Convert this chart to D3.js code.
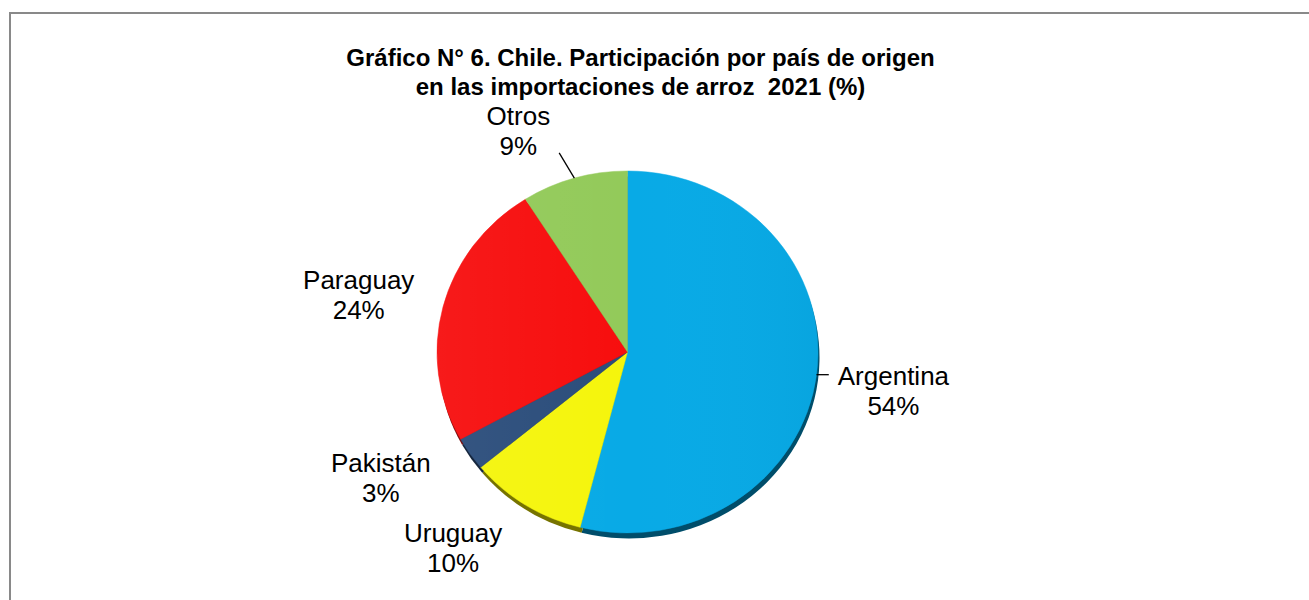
<!DOCTYPE html>
<html>
<head>
<meta charset="utf-8">
<script src="https://cdn.jsdelivr.net/npm/d3@7"></script>
<style>
  body { margin: 0; background: #fff; }
  svg { display: block; font-family: "Liberation Sans", Arial, sans-serif; }
</style>
</head>
<body>
<div id="chart"></div>
<script>
// data (clockwise from 12 o'clock)
var countries = ["Argentina", "Uruguay", "Pakistán", "Paraguay", "Otros"];
var shares = [54, 10, 3, 24, 9];
var percentLabels = ["54%", "10%", "3%", "24%", "9%"];
var titleLines = ["Gráfico N° 6. Chile. Participación por país de origen",
                  "en las importaciones de arroz  2021 (%)"];

var sliceColors = ["#08aae6", "#f5f50c", "#2b4d7b", "#f70e0e", "#93ca5a"];
var shadowColors = ["#004e6b", "#767300", "#15263d", "#7a0a0a", "#4b6a2c"];

var W = 1309, H = 600;
var cx = 627.5, cy = 352;
var rx = 190.5, ky = 181 / 190.5;   // pie is slightly squashed vertically

// label nudges away from the plain radial spot (Excel "best fit" look)
var labelR = 262;
var labelNudge = {
  "Argentina": [6, 8], "Uruguay": [-34, -14], "Pakistán": [-30, -14],
  "Paraguay": [-15, 5], "Otros": [-36, 18]
};
var leaderLabels = ["Argentina", "Otros"];

var svg = d3.select("#chart").append("svg")
    .attr("width", W)
    .attr("height", H);

// outer frame
svg.append("rect")
    .attr("x", 10).attr("y", 13)
    .attr("width", W + 20).attr("height", H + 20)
    .style("fill", "none")
    .style("stroke", "#898989")
    .style("stroke-width", 2);

var defs = svg.append("defs");
var grad = defs.append("linearGradient")
    .attr("id", "shade")
    .attr("x1", "0").attr("x2", "1").attr("y1", "0").attr("y2", "0");
grad.append("stop").attr("offset", "0").attr("stop-color", "#fff").attr("stop-opacity", 0.05);
grad.append("stop").attr("offset", "0.5").attr("stop-color", "#fff").attr("stop-opacity", 0);
grad.append("stop").attr("offset", "1").attr("stop-color", "#000").attr("stop-opacity", 0.03);
defs.append("filter").attr("id", "soft")
    .append("feGaussianBlur").attr("stdDeviation", 0.7);

// title
svg.append("g").selectAll("text")
    .data(titleLines)
  .enter().append("text")
    .attr("x", 640.5)
    .attr("y", function(d, i) { return 66 + i * 29; })
    .attr("text-anchor", "middle")
    .style("font-weight", "bold")
    .style("font-size", "24px")
    .style("white-space", "pre")
    .style("fill", "#000")
    .text(function(d) { return d; });

var rows = countries.map(function(c, i) {
  return { name: c, value: shares[i], pct: percentLabels[i], i: i };
});

var pie = d3.pie().sort(null).value(function(d) { return d.value; });
var arcs = pie(rows);
var arc = d3.arc().innerRadius(0).outerRadius(rx);

// shadow under the pie
svg.append("g")
    .attr("transform", "translate(" + (cx + 1.5) + "," + (cy + 5.5) + ") scale(1," + ky + ")")
    .attr("filter", "url(#soft)")
  .selectAll("path")
    .data(arcs)
  .enter().append("path")
    .attr("d", arc)
    .style("fill", function(d) { return shadowColors[d.data.i]; });

var pieG = svg.append("g")
    .attr("transform", "translate(" + cx + "," + cy + ") scale(1," + ky + ")");

pieG.selectAll("path.slice")
    .data(arcs)
  .enter().append("path")
    .attr("class", "slice")
    .attr("d", arc)
    .style("fill", function(d) { return sliceColors[d.data.i]; })
    .style("stroke", function(d) { return sliceColors[d.data.i]; })
    .style("stroke-width", 0.5);

// light left-to-right shading over the whole pie
pieG.append("circle")
    .attr("r", rx)
    .style("fill", "url(#shade)");

// labels
function midAngle(d) { return (d.startAngle + d.endAngle) / 2; }

var labels = svg.append("g");
arcs.forEach(function(d) {
  var a = midAngle(d);
  var n = labelNudge[d.data.name];
  var lx = cx + labelR * Math.sin(a) + n[0];
  var ly = cy - labelR * Math.cos(a) * ky + n[1];

  var t = labels.append("text")
      .attr("text-anchor", "middle")
      .style("font-size", "26px")
      .style("fill", "#000");
  t.append("tspan").attr("x", lx).attr("y", ly - 6).text(d.data.name);
  t.append("tspan").attr("x", lx).attr("y", ly + 24).text(d.data.pct);

  if (leaderLabels.indexOf(d.data.name) >= 0) {
    var bb = t.node().getBBox();
    var pad = 9;
    var ex = cx + rx * Math.sin(a);
    var ey = cy - rx * Math.cos(a) * ky;
    var nx = Math.max(bb.x - pad, Math.min(ex, bb.x + bb.width + pad));
    var ny = Math.max(bb.y + 6, Math.min(ey, bb.y + bb.height - 8));
    labels.append("line")
        .attr("x1", ex).attr("y1", ey)
        .attr("x2", nx).attr("y2", ny)
        .style("stroke", "#000")
        .style("stroke-width", 1.3);
  }
});
</script>
</body>
</html>
